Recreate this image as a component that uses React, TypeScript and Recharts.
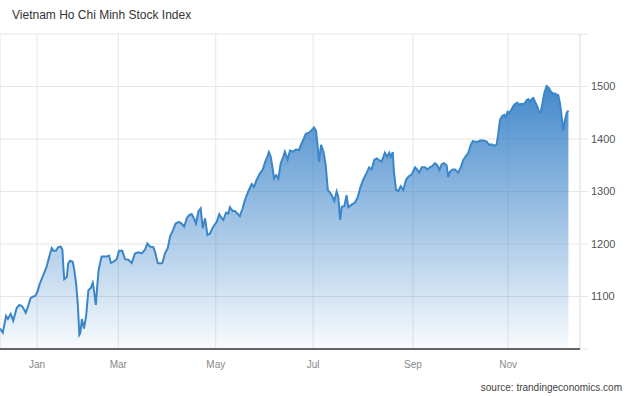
import React from 'react';
import { AreaChart, Area, XAxis, YAxis, CartesianGrid, ReferenceLine } from 'recharts';

// trading-day position (from mid-Dec 2020) and index close
const days = [
  0.0, 1.2, 2.6, 3.4, 4.6, 5.7, 7.2, 8.3, 9.4, 10.0, 11.1, 11.9, 13.2, 14.4, 15.2, 16.1, 17.2, 18.7, 20.1, 21.6,
  22.3, 23.0, 24.1, 25.1, 26.2, 26.9, 27.3, 27.7, 28.8, 29.4, 30.2, 31.3, 31.9, 32.8, 33.6, 34.2, 34.6, 35.3, 36.2, 37.1,
  38.1, 39.1, 40.0, 40.6, 41.3, 41.9, 42.5, 43.1, 43.8, 46.0, 47.0, 47.8, 48.8, 50.3, 51.3, 52.7, 53.9, 55.3, 56.8, 58.2,
  59.6, 61.1, 62.5, 63.5, 64.7, 66.1, 66.8, 68.0, 69.0, 70.0, 71.1, 72.3, 73.3, 74.7, 75.7, 77.2, 78.3, 79.4, 80.5, 81.5,
  82.6, 83.6, 84.5, 85.5, 86.5, 87.4, 88.4, 89.4, 90.5, 91.9, 93.4, 94.5, 95.6, 96.3, 97.4, 98.4, 99.1, 100.3, 101.3, 102.3,
  103.4, 104.6, 105.6, 107.0, 108.5, 109.5, 110.6, 112.1, 113.2, 114.2, 115.2, 115.9, 116.7, 117.5, 118.1, 119.0, 120.0, 121.0, 122.1, 122.8,
  124.0, 125.0, 126.4, 127.5, 128.9, 129.7, 130.7, 131.8, 133.2, 134.4, 135.3, 136.2, 136.8, 137.5, 138.4, 139.4, 140.4, 141.3, 142.2, 143.2,
  144.1, 145.1, 145.8, 146.6, 147.3, 148.4, 149.4, 150.1, 151.3, 153.0, 154.2, 155.2, 156.6, 158.1, 159.1, 160.2, 161.3, 162.4, 163.4, 164.5,
  165.9, 166.9, 167.8, 168.5, 169.3, 169.8, 170.7, 171.7, 172.7, 173.8, 175.0, 176.0, 177.5, 178.9, 179.9, 180.7, 181.8, 183.2, 184.2, 185.3,
  186.5, 187.5, 188.5, 189.4, 190.4, 191.4, 192.5, 193.2, 194.0, 195.1, 196.1, 197.5, 198.6, 199.7, 200.9, 201.9, 202.9, 203.8, 204.7, 206.2,
  206.9, 208.3, 209.8, 210.8, 211.9, 213.1, 214.1, 214.8, 215.5, 216.5, 217.4, 218.0, 218.8, 219.5, 220.3, 221.3, 222.3, 223.1, 223.7, 224.6,
  225.6, 226.3, 227.0, 227.7, 228.4, 229.2, 229.9, 230.6, 231.5, 232.3, 233.1, 233.8, 234.6, 235.6, 236.6, 237.5, 238.5, 239.2, 240.0, 240.6,
  241.4, 242.1, 242.8, 243.5, 244.3, 245.0,
];

const values = [
  1039, 1031, 1063, 1057, 1067, 1054, 1078, 1084, 1082, 1078, 1069, 1079, 1097, 1100, 1101, 1109, 1125, 1141, 1157, 1182,
  1192, 1187, 1187, 1194, 1195, 1189, 1157, 1133, 1137, 1163, 1168, 1166, 1154, 1125, 1081, 1027, 1030, 1057, 1039, 1062,
  1112, 1116, 1126, 1109, 1084, 1119, 1150, 1163, 1176, 1176, 1178, 1164, 1166, 1171, 1187, 1187, 1171, 1170, 1164, 1182,
  1184, 1182, 1189, 1201, 1195, 1194, 1185, 1164, 1163, 1164, 1182, 1192, 1214, 1228, 1239, 1242, 1239, 1233, 1249, 1255,
  1257, 1249, 1239, 1262, 1268, 1230, 1249, 1217, 1220, 1233, 1242, 1257, 1249, 1246, 1260, 1258, 1270, 1263, 1263, 1258,
  1253, 1268, 1284, 1300, 1314, 1309, 1322, 1335, 1341, 1355, 1366, 1375, 1366, 1344, 1325, 1331, 1325, 1354, 1366, 1376,
  1361, 1378, 1376, 1380, 1379, 1389, 1398, 1410, 1412, 1417, 1422, 1416, 1392, 1357, 1389, 1376, 1350, 1303, 1298, 1291,
  1282, 1300, 1290, 1246, 1271, 1272, 1293, 1270, 1274, 1279, 1289, 1306, 1323, 1336, 1346, 1342, 1360, 1363, 1360, 1357,
  1374, 1366, 1374, 1366, 1375, 1338, 1303, 1301, 1310, 1303, 1322, 1328, 1333, 1346, 1341, 1336, 1346, 1346, 1342, 1346,
  1349, 1354, 1350, 1341, 1352, 1354, 1350, 1328, 1338, 1342, 1342, 1336, 1346, 1360, 1368, 1374, 1389, 1396, 1395, 1395,
  1397, 1397, 1395, 1389, 1390, 1387, 1390, 1411, 1436, 1444, 1446, 1442, 1452, 1449, 1455, 1463, 1468, 1469, 1465, 1467,
  1466, 1469, 1474, 1476, 1471, 1476, 1478, 1471, 1463, 1452, 1452, 1468, 1487, 1501, 1497, 1490, 1486, 1487, 1484, 1484,
  1468, 1442, 1416, 1436, 1450, 1454,
];

const monthTicks = [16, 51, 93, 135, 178, 219];
const monthLabels = ['Jan', 'Mar', 'May', 'Jul', 'Sep', 'Nov'];
const yTicks = [1000, 1100, 1200, 1300, 1400, 1500, 1600];
const yLabelled = [1100, 1200, 1300, 1400, 1500];
const xDomainEnd = 250;

const data = days.map((d, i) => ({ day: d, value: values[i] }));

const FONT = "'Liberation Sans', Arial, Helvetica, sans-serif";
const GRID = '#e6e6e6';

export default function App() {
  return (
    <div style={{ position: 'absolute', left: 0, top: 0, width: 630, height: 396, background: '#fff', fontFamily: FONT }}>
      <div style={{ position: 'absolute', left: 12, top: 8, fontSize: 12, color: '#333', whiteSpace: 'nowrap' }}>
        Vietnam Ho Chi Minh Stock Index
      </div>
      <AreaChart width={630} height={396} data={data} margin={{ top: 34, right: 0, bottom: 0, left: 0 }}>
        <defs>
          <linearGradient id="fillGrad" x1="0" y1="0" x2="0" y2="1">
            <stop offset="0%" stopColor="#2f7cc6" stopOpacity={0.9} />
            <stop offset="100%" stopColor="#2f7cc6" stopOpacity={0.03} />
          </linearGradient>
        </defs>
        <CartesianGrid stroke={GRID} strokeWidth={1} />
        <XAxis
          type="number"
          dataKey="day"
          domain={[0, xDomainEnd]}
          ticks={monthTicks}
          tickFormatter={(v: number) => monthLabels[monthTicks.indexOf(v)] ?? ''}
          tickLine={false}
          axisLine={{ stroke: '#666', strokeWidth: 2 }}
          tickSize={6}
          tickMargin={6}
          height={47}
          tick={{ fontSize: 10, fill: '#888', fontFamily: FONT }}
          allowDataOverflow
        />
        <YAxis
          orientation="right"
          domain={[1000, 1600]}
          ticks={yTicks}
          tickFormatter={(v: number) => (yLabelled.includes(v) ? String(v) : '')}
          axisLine={false}
          tickLine={{ stroke: GRID }}
          tickSize={8}
          tickMargin={3}
          width={50}
          tick={{ fontSize: 11, fill: '#555', fontFamily: FONT }}
          allowDataOverflow
        />
        <ReferenceLine x={xDomainEnd} stroke={GRID} />
        <Area
          type="linear"
          dataKey="value"
          stroke="#3a86c9"
          strokeWidth={2}
          fill="url(#fillGrad)"
          fillOpacity={1}
          isAnimationActive={false}
          dot={false}
          activeDot={false}
        />
      </AreaChart>
      <div style={{ position: 'absolute', right: 8, top: 382, fontSize: 10, color: '#444', whiteSpace: 'nowrap' }}>
        source: trandingeconomics.com
      </div>
    </div>
  );
}
